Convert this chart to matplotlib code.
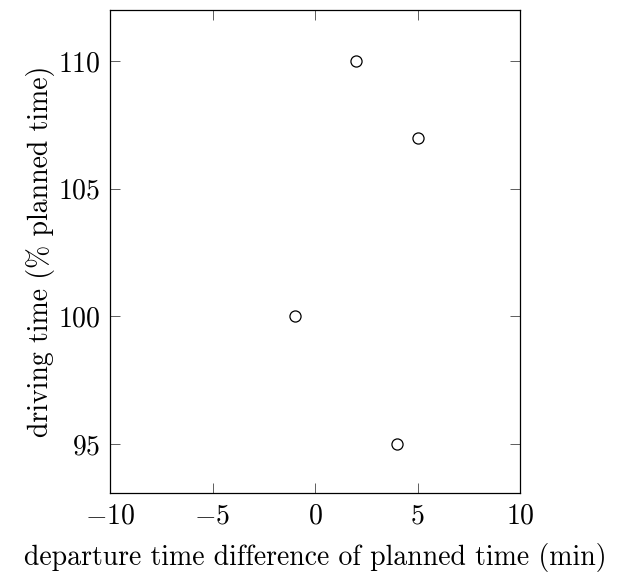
import matplotlib
matplotlib.use('Agg')
import matplotlib.pyplot as plt

plt.rcParams.update({
    'font.family': 'serif',
    'font.serif': ['cmr10'],
    'mathtext.fontset': 'cm',
    'axes.formatter.use_mathtext': True,
    'font.size': 20,
})

# data
dep_diff = [2, 5, -1, 4]
drive_pct = [110, 107, 100, 95]
xticks = [-10, -5, 0, 5, 10]
yticks = [95, 100, 105, 110]

fig = plt.figure(figsize=(6.19, 5.73), dpi=100)
ax = fig.add_axes([0.1777, 0.1396, 0.6624, 0.8429])

ax.plot(dep_diff, drive_pct, 'o', mfc='white', mec='black', ms=8, mew=0.9)

ax.set_xlim(-10, 10)
ax.set_ylim(93.08, 112)
ax.set_xticks(xticks)
ax.set_yticks(yticks)
ax.set_xticklabels([f'${v}$' if v >= 0 else f'$-{abs(v)}$' for v in xticks])
ax.set_yticklabels([f'${v}$' for v in yticks])
ax.tick_params(direction='in', top=True, right=True, length=7, width=0.6,
               color='#444444', labelsize=20, pad=7)
for s in ax.spines.values():
    s.set_linewidth(0.9)

ax.set_xlabel('departure time difference of planned time (min)', fontsize=20, labelpad=10)
ax.set_ylabel('driving time (% planned time)', fontsize=20, labelpad=2)

fig.savefig('out.png', dpi=100)
